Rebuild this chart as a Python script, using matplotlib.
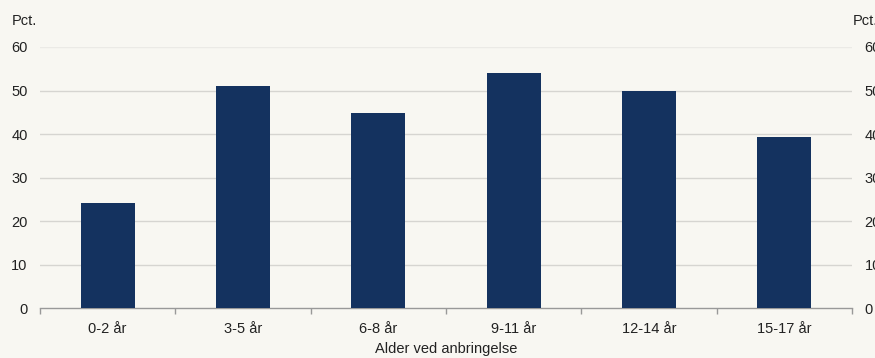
import matplotlib
matplotlib.use("Agg")
import matplotlib.pyplot as plt
import numpy as np

plt.rcParams['font.family'] = ['Liberation Sans', 'DejaVu Sans']

categories = ["0-2 år", "3-5 år", "6-8 år", "9-11 år", "12-14 år", "15-17 år"]
values = [24.1, 51.1, 44.9, 54.1, 49.9, 39.4]
yticks = [0, 10, 20, 30, 40, 50, 60]
xlabel = "Alder ved anbringelse"
unit = "Pct."

bg = "#f8f7f2"
bar_color = "#14325f"
text_color = "#222222"
fs = 10.5

fig = plt.figure(figsize=(8.75, 3.58), dpi=100, facecolor=bg)
ax = fig.add_axes([40 / 875, 1 - 308.3 / 358, 812 / 875, 261.3 / 358], facecolor=bg)

x = np.arange(len(categories))
ax.bar(x, values, width=0.4, color=bar_color, zorder=3)

ax.set_xlim(-0.5, len(categories) - 0.5)
ax.set_ylim(0, 60)

# horizontal gridlines
for t in yticks[1:]:
    ax.axhline(t, color="#ebeae6" if t == 60 else "#d6d5d1", lw=1.0, zorder=1)

ax.set_yticks(yticks)
ax.set_yticklabels([str(t) for t in yticks], fontsize=fs, color=text_color)
ax.tick_params(axis="y", length=0, pad=9)

# category labels centred, tick marks between categories
ax.set_xticks(x)
ax.set_xticklabels(categories, fontsize=fs, color=text_color)
ax.tick_params(axis="x", which="major", length=0, pad=10)
ax.set_xticks(np.arange(-0.5, len(categories)), minor=True)
ax.tick_params(axis="x", which="minor", length=4, color="#999999", width=1)

for side in ["top", "left", "right"]:
    ax.spines[side].set_visible(False)
ax.spines["bottom"].set_color("#999999")
ax.spines["bottom"].set_linewidth(1)

ax.set_xlabel(xlabel, fontsize=fs, color=text_color, labelpad=4)

# mirrored axis on the right
ax2 = ax.twinx()
ax2.set_ylim(0, 60)
ax2.set_yticks(yticks)
ax2.set_yticklabels([str(t) for t in yticks], fontsize=fs, color=text_color)
ax2.tick_params(axis="y", length=0, pad=9)
for side in ["top", "left", "right", "bottom"]:
    ax2.spines[side].set_visible(False)

fig.text(12 / 875, 1 - 21 / 358, unit, fontsize=fs, color=text_color, va="center", ha="left")
fig.text(853 / 875, 1 - 21 / 358, unit, fontsize=fs, color=text_color, va="center", ha="left")

fig.savefig("out.png", dpi=100, facecolor=bg)
